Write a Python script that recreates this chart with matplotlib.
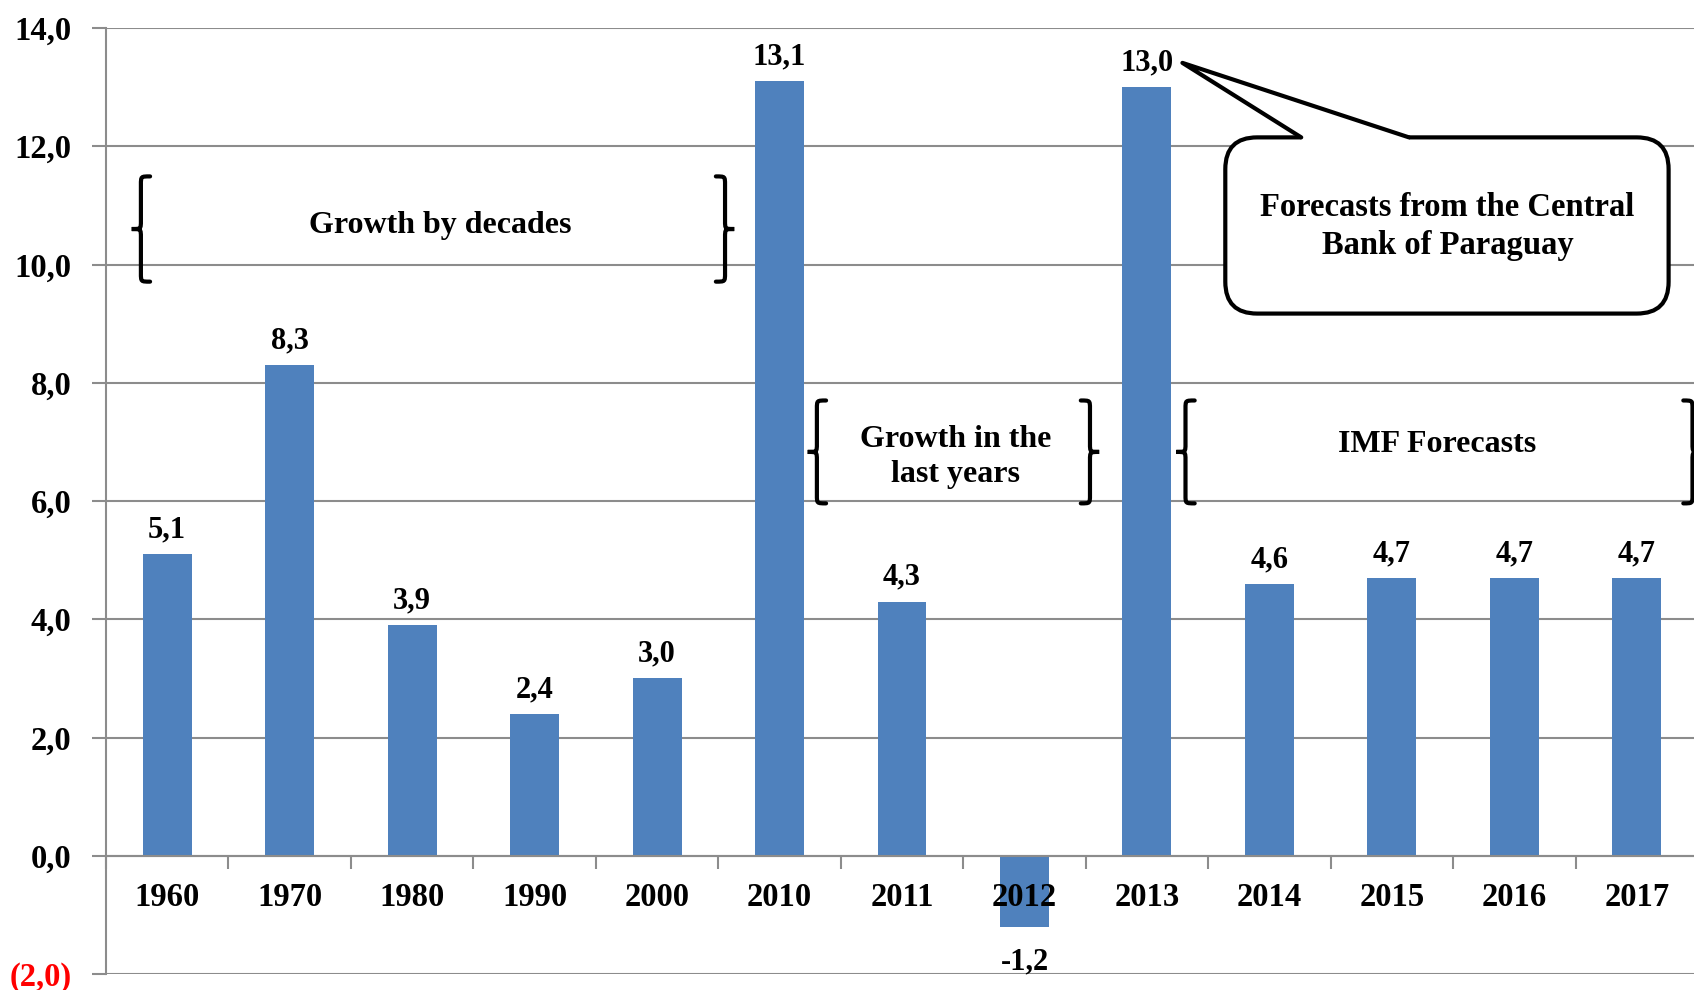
import numpy as np
import matplotlib
matplotlib.use("Agg")
import matplotlib.pyplot as plt
from matplotlib.path import Path
from matplotlib.patches import PathPatch, FancyBboxPatch, Polygon
from matplotlib.ticker import FixedLocator, FuncFormatter

plt.rcParams['font.family'] = ['Liberation Serif', 'DejaVu Serif']
plt.rcParams['font.weight'] = 'bold'

years = ['1960', '1970', '1980', '1990', '2000', '2010', '2011',
         '2012', '2013', '2014', '2015', '2016', '2017']
growth = [5.1, 8.3, 3.9, 2.4, 3.0, 13.1, 4.3, -1.2, 13.0, 4.6, 4.7, 4.7, 4.7]
y_ticks = [-2, 0, 2, 4, 6, 8, 10, 12, 14]

bar_color = '#4F81BD'
grid_color = '#8C8C8C'


def fmt(v):
    s = f"{abs(v):.1f}".replace('.', ',')
    return f"({s})" if v < 0 else s


def brace(ax, x_tip, x_end, y0, y1, lw=3.0):
    # curly brace, tip at x_tip, arms ending at x_end
    xm = (x_tip + x_end) / 2
    ym = (y0 + y1) / 2
    r = (y1 - y0) * 0.08
    verts = [
        (x_end, y1),
        (xm, y1), (xm, y1), (xm, y1 - r),
        (xm, ym + r),
        (xm, ym), (xm, ym), (x_tip, ym),
        (xm, ym), (xm, ym), (xm, ym - r),
        (xm, y0 + r),
        (xm, y0), (xm, y0), (x_end, y0),
    ]
    codes = [Path.MOVETO,
             Path.CURVE4, Path.CURVE4, Path.CURVE4,
             Path.LINETO,
             Path.CURVE4, Path.CURVE4, Path.CURVE4,
             Path.CURVE4, Path.CURVE4, Path.CURVE4,
             Path.LINETO,
             Path.CURVE4, Path.CURVE4, Path.CURVE4]
    ax.add_patch(PathPatch(Path(verts, codes), fill=False, lw=lw,
                           edgecolor='black', capstyle='round', zorder=4,
                           clip_on=False))


fig = plt.figure(figsize=(16.94, 9.9), dpi=100)
ax = fig.add_axes([106 / 1694, 16 / 990, 1592 / 1694, 946 / 990])

x = np.arange(len(years))
# gridlines under the bars, tick labels (axis) above them
for yt in y_ticks:
    ax.axhline(yt, color=grid_color, lw=1.5, zorder=0)
ax.bar(x, growth, width=0.4, color=bar_color, zorder=1)
ax.set_axisbelow(False)

ax.set_xlim(-0.5, len(years) - 0.5)
ax.set_ylim(-2, 14)

ax.yaxis.set_major_locator(FixedLocator(y_ticks))
ax.yaxis.set_major_formatter(FuncFormatter(lambda v, p: fmt(v)))
for lab in ax.get_yticklabels():
    lab.set_fontsize(23.5)
    lab.set_fontweight('bold')
for lab, v in zip(ax.get_yticklabels(), y_ticks):
    if v < 0:
        lab.set_color('red')
ax.tick_params(axis='y', length=10, width=1.5, color=grid_color, pad=15)

ax.spines['bottom'].set_position(('data', 0))
for s in ['top', 'right']:
    ax.spines[s].set_visible(False)
for s in ['bottom', 'left']:
    ax.spines[s].set_color(grid_color)
    ax.spines[s].set_linewidth(1.5)

ax.set_xticks(x)
ax.set_xticklabels(years, fontsize=23.5, fontweight='bold')
ax.set_xticks(np.arange(len(years) + 1) - 0.5, minor=True)
ax.tick_params(axis='x', which='major', length=0, pad=19)
ax.tick_params(axis='x', which='minor', length=9, width=1.5, color=grid_color)

# value labels
for xi, v in zip(x, growth):
    lab = f"{v:.1f}".replace('.', ',')
    if v >= 0:
        ax.annotate(lab, (xi, v), xytext=(0, 12), textcoords='offset points',
                    ha='center', va='baseline', fontsize=22, fontweight='bold')
    else:
        ax.annotate(lab, (xi, v), xytext=(0, -25), textcoords='offset points',
                    ha='center', va='center', fontsize=22, fontweight='bold')

# braces and group labels
brace(ax, -0.29, -0.14, 9.71, 11.49)
brace(ax, 4.63, 4.48, 9.71, 11.49)
ax.text(2.23, 10.66, 'Growth by decades', ha='center', va='center',
        fontsize=23, fontweight='bold')

brace(ax, 5.23, 5.38, 5.96, 7.70)
brace(ax, 7.61, 7.46, 5.96, 7.70)
ax.text(6.44, 6.74, 'Growth in the\nlast years', ha='center', va='center',
        fontsize=23, fontweight='bold', linespacing=1.25)

brace(ax, 8.24, 8.39, 5.96, 7.70)
brace(ax, 12.53, 12.38, 5.96, 7.70)
ax.text(10.37, 6.95, 'IMF Forecasts', ha='center', va='center',
        fontsize=23, fontweight='bold')

# callout
aspect = (122.5 / 59.2)
box = FancyBboxPatch((8.64, 9.17), 12.26 - 8.64, 12.15 - 9.17,
                     boxstyle='round,pad=0,rounding_size=0.26',
                     mutation_aspect=aspect, facecolor='white',
                     edgecolor='black', lw=3, zorder=5, clip_on=False)
ax.add_patch(box)
tip = (8.29, 13.41)
b1 = (9.26, 12.15)
b2 = (10.14, 12.15)
ax.add_patch(Polygon([b1, tip, b2, (10.14, 12.0), (9.26, 12.0)],
                     closed=True, facecolor='white', edgecolor='none',
                     zorder=6))
ax.plot([b1[0], tip[0], b2[0]], [b1[1], tip[1], b2[1]], color='black',
        lw=3, zorder=7, solid_joinstyle='round', solid_capstyle='round')
ax.text(10.455, 10.64, 'Forecasts from the Central\nBank of Paraguay',
        ha='center', va='center', fontsize=23.5, fontweight='bold',
        linespacing=1.3, zorder=8)

fig.savefig('out.png', dpi=100)
